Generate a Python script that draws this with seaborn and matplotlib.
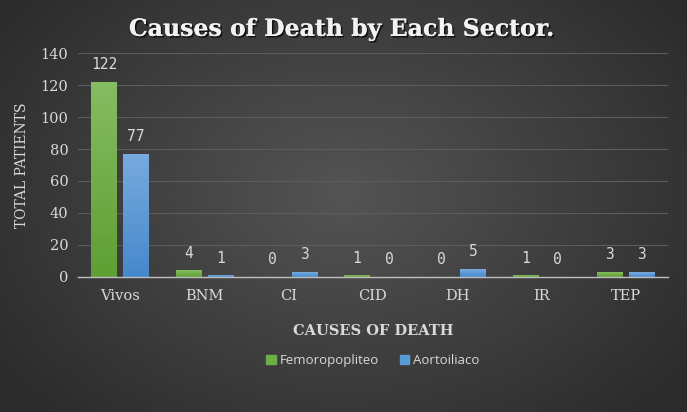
import numpy                as np
import pandas               as pd
import seaborn              as sns
import matplotlib.pyplot    as plt
import matplotlib.patheffects as pe
from matplotlib.colors      import to_rgb

# ============================================================ DATA ============================================================

causes          = ["Vivos", "BNM", "CI", "CID", "DH", "IR", "TEP"]
femoropopliteo  = [122, 4, 0, 1, 0, 1, 3]
aortoiliaco     = [77, 1, 3, 0, 5, 0, 3]
sectors         = ["Femoropopliteo", "Aortoiliaco"]
y_ticks         = [0, 20, 40, 60, 80, 100, 120, 140]

df = pd.DataFrame({
    "Cause"  : causes * 2,
    "Sector" : [sectors[0]] * len(causes) + [sectors[1]] * len(causes),
    "Total"  : femoropopliteo + aortoiliaco,
})

# ============================================================ STYLE ============================================================

GREEN   = "#70ad47"
BLUE    = "#5b9bd5"
TEXT    = "#d9d9d9"
SERIF   = "DejaVu Serif"

sns.set_theme(style="dark")

fig = plt.figure(figsize=(6.87, 4.12), dpi=100)

# radial background on its own axes behind everything
h, w = 412, 687
yy, xx = np.mgrid[0:h, 0:w]
r = np.sqrt(((xx - w * 0.5) / (w * 0.62)) ** 2 + ((yy - h * 0.47) / (h * 0.75)) ** 2)
r = np.clip(r, 0, 1)
shade = 0.33 - 0.16 * r
bg_ax = fig.add_axes([0, 0, 1, 1], zorder=-1)
bg_ax.imshow(np.dstack([shade, shade, shade]), aspect="auto", extent=[0, 1, 0, 1])
bg_ax.axis("off")

ax = fig.add_axes([0.1135, 0.328, 0.8588, 0.543], zorder=1)
ax.set_facecolor("none")

sns.barplot(data=df, x="Cause", y="Total", hue="Sector", palette=[GREEN, BLUE],
            width=0.76, gap=0.2, ax=ax, saturation=1, legend=False, zorder=3,
            linewidth=0, edgecolor="none")

# gradient fill on bars
grad = {0: ("#86bc62", "#5f9f33"), 1: ("#78abde", "#4688cc")}
n = len(causes)
for i, patch in enumerate(ax.patches[:2 * n]):
    top_c, bot_c = grad[0] if i < n else grad[1]
    x0, y0 = patch.get_x(), patch.get_y()
    bw, bh = patch.get_width(), patch.get_height()
    if bh <= 0:
        continue
    c1, c2 = np.array(to_rgb(top_c)), np.array(to_rgb(bot_c))
    t = np.linspace(0, 1, 64)[:, None]
    img = (c1 * (1 - t) + c2 * t)[:, None, :]
    im = ax.imshow(img, extent=[x0, x0 + bw, y0, y0 + bh], aspect="auto", zorder=4, origin="upper")
    im.set_clip_path(patch)

for container in ax.containers:
    ax.bar_label(container, padding=7, color=TEXT, fontsize=10.5, family="DejaVu Sans Mono")

ax.set_ylim(0, 140)
ax.set_xlim(-0.5, n - 0.5)
ax.set_yticks(y_ticks)
ax.grid(axis="y", color="#5c5c5c", linewidth=0.8, zorder=0)
ax.grid(axis="x", visible=False)
for side in ["top", "right", "left"]:
    ax.spines[side].set_visible(False)
ax.spines["bottom"].set_color("#bfbfbf")
ax.spines["bottom"].set_linewidth(1.0)
ax.spines["bottom"].set_zorder(5)
ax.tick_params(axis="both", length=0, colors=TEXT, labelsize=10.5)
ax.tick_params(axis="x", pad=9)
ax.tick_params(axis="y", pad=7)
for lbl in ax.get_xticklabels() + ax.get_yticklabels():
    lbl.set_family(SERIF)
    lbl.set_color(TEXT)

ax.set_ylabel("TOTAL PATIENTS", color=TEXT, fontsize=10, family=SERIF, labelpad=8)
ax.set_xlabel("CAUSES OF DEATH", color=TEXT, fontsize=10.5, family=SERIF, fontweight="bold", labelpad=15)

fig.text(0.497, 0.930, "Causes of Death by Each Sector.", ha="center", va="center",
         fontsize=17, family=SERIF, fontweight="bold", color="#f2f2f2",
         path_effects=[pe.withSimplePatchShadow(offset=(1.2, -1.2), shadow_rgbFace="black", alpha=0.7), pe.Normal()])

handles = [plt.Rectangle((0, 0), 1, 1, color=c) for c in [GREEN, BLUE]]
leg = fig.legend(handles, sectors, loc="center", bbox_to_anchor=(0.543, 0.124), ncol=2, frameon=False,
                 handlelength=0.7, handleheight=0.7, handletextpad=0.3, columnspacing=1.6,
                 prop={"family": "Open Sans", "size": 9.5})
for t in leg.get_texts():
    t.set_color(TEXT)

fig.savefig("out.png", dpi=100)
